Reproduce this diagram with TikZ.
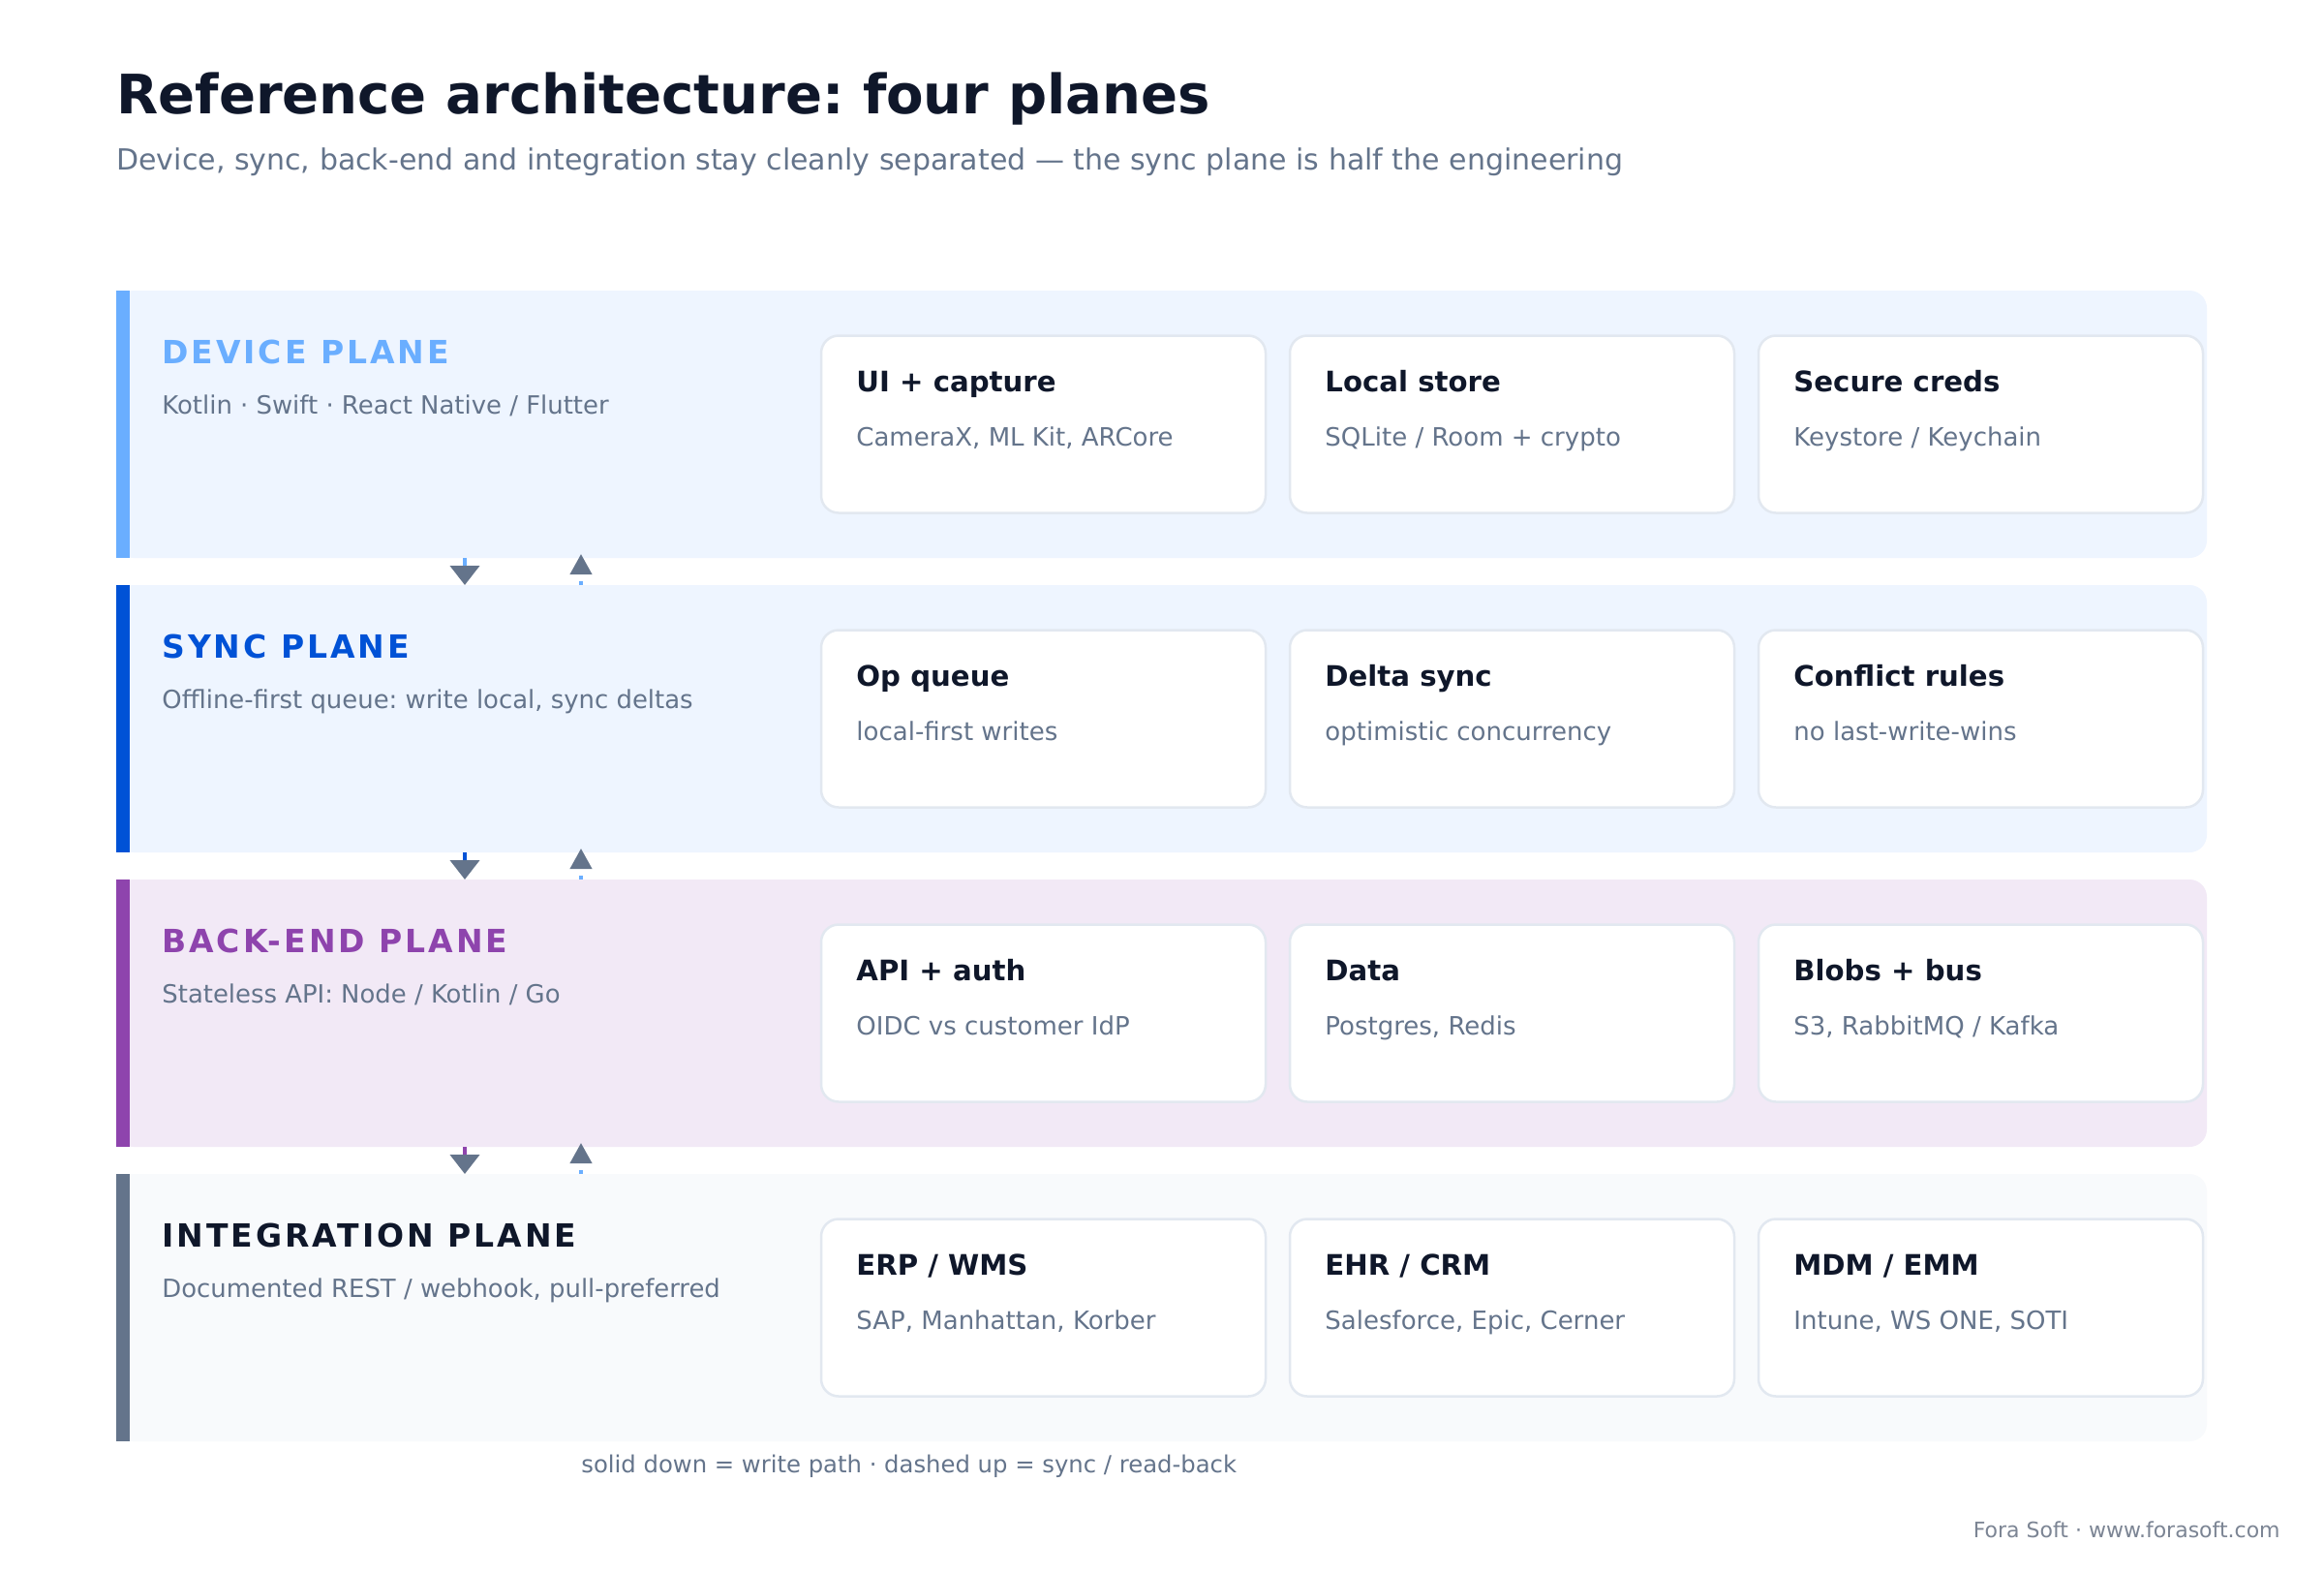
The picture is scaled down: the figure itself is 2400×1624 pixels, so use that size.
\documentclass[tikz,border=0pt]{standalone}
\usepackage{fontspec}
\setmainfont{DejaVu Sans}
\newfontfamily\planefont{DejaVu Sans}[LetterSpace=9]
\usetikzlibrary{positioning}
\usetikzlibrary{arrows.meta}
\frenchspacing

\definecolor{ink}{HTML}{0F172A}
\definecolor{slate}{HTML}{64748B}
\definecolor{cardline}{HTML}{E2E8F0}
\definecolor{devblue}{HTML}{6AAEFF}
\definecolor{devbg}{HTML}{EEF5FF}
\definecolor{syncblue}{HTML}{0052D6}
\definecolor{backpurple}{HTML}{8E44AD}
\definecolor{backbg}{HTML}{F2E9F6}
\definecolor{intbg}{HTML}{F8FAFC}
\definecolor{footgray}{HTML}{7C8594}

\tikzset{
  plane/.style={rectangle,rounded corners=9pt,draw=none,minimum width=1079.5pt,minimum height=138pt,anchor=north west,inner sep=0pt,outer sep=0pt},
  bar/.style={rectangle,draw=none,minimum width=7pt,minimum height=138pt,anchor=north west,inner sep=0pt,outer sep=0pt},
  card/.style={rectangle,rounded corners=9pt,draw=cardline,line width=1.25pt,fill=white,minimum width=229.5pt,minimum height=91.5pt,inner sep=0pt,outer sep=0pt},
  planetitle/.style={anchor=base west,inner sep=0pt,font=\planefont\fontsize{16.5pt}{20pt}\selectfont\bfseries},
  planesub/.style={anchor=base west,inner sep=0pt,text=slate,font=\fontsize{12.95pt}{15pt}\selectfont},
  cardtitle/.style={anchor=base west,inner sep=0pt,text=ink,font=\fontsize{14.6pt}{17pt}\selectfont\bfseries},
  cardsub/.style={anchor=base west,inner sep=0pt,text=slate,font=\fontsize{13pt}{15pt}\selectfont},
  writepath/.style={line width=2pt,-{Triangle[length=10pt,width=15pt,color=slate]}},
  readback/.style={line width=2pt,devblue,dash pattern=on 2pt off 4pt,-{Triangle[length=10.5pt,width=11pt,color=slate]}},
}

\begin{document}
\begin{tikzpicture}[x=0.5pt,y=-0.5pt]
\useasboundingbox[fill=white] (0,0) rectangle (2400,1624);

\node[anchor=base west,inner sep=0pt,text=ink,font=\fontsize{28.05pt}{34pt}\selectfont\bfseries] (title) at (120,117) {Reference architecture: four planes};
\node[anchor=base west,inner sep=0pt,text=slate,font=\fontsize{15pt}{18pt}\selectfont] (subtitle) at (120,175) {Device, sync, back-end and integration stay cleanly separated --- the sync plane is half the engineering};

\node[plane,fill=devbg] (device) at (120,300) {};
\node[bar,fill=devblue] at (device.north west) {};
\node[planetitle,text=devblue] (devicet) at ([xshift=23.5pt,yshift=-37.85pt]device.north west) {DEVICE PLANE};
\node[planesub] (devices) at ([xshift=23.5pt,yshift=-63.65pt]device.north west) {Kotlin · Swift · React Native / Flutter};
\node[card,anchor=north west] (ui) at (848,346.5) {};
\node[card,right=12.5pt of ui] (store) {};
\node[card,right=12.5pt of store] (creds) {};
\node[cardtitle] at ([xshift=18pt,yshift=-29pt]ui.north west) {UI + capture};
\node[cardsub] at ([xshift=18pt,yshift=-57pt]ui.north west) {CameraX, ML Kit, ARCore};
\node[cardtitle] at ([xshift=18pt,yshift=-29pt]store.north west) {Local store};
\node[cardsub] at ([xshift=18pt,yshift=-57pt]store.north west) {SQLite / Room + crypto};
\node[cardtitle] at ([xshift=18pt,yshift=-29pt]creds.north west) {Secure creds};
\node[cardsub] at ([xshift=18pt,yshift=-57pt]creds.north west) {Keystore / Keychain};

\node[plane,fill=devbg] (sync) at (120,604) {};
\node[bar,fill=syncblue] at (sync.north west) {};
\node[planetitle,text=syncblue] (synct) at ([xshift=23.5pt,yshift=-37.85pt]sync.north west) {SYNC PLANE};
\node[planesub] (syncs) at ([xshift=23.5pt,yshift=-63.65pt]sync.north west) {Offline-first queue: write local, sync deltas};
\node[card,anchor=north west] (opq) at (848,650.5) {};
\node[card,right=12.5pt of opq] (delta) {};
\node[card,right=12.5pt of delta] (conflict) {};
\node[cardtitle] at ([xshift=18pt,yshift=-29pt]opq.north west) {Op queue};
\node[cardsub] at ([xshift=18pt,yshift=-57pt]opq.north west) {local-first writes};
\node[cardtitle] at ([xshift=18pt,yshift=-29pt]delta.north west) {Delta sync};
\node[cardsub] at ([xshift=18pt,yshift=-57pt]delta.north west) {optimistic concurrency};
\node[cardtitle] at ([xshift=18pt,yshift=-29pt]conflict.north west) {Conflict rules};
\node[cardsub] at ([xshift=18pt,yshift=-57pt]conflict.north west) {no last-write-wins};

\node[plane,fill=backbg] (backend) at (120,908) {};
\node[bar,fill=backpurple] at (backend.north west) {};
\node[planetitle,text=backpurple] (backendt) at ([xshift=23.5pt,yshift=-37.85pt]backend.north west) {BACK-END PLANE};
\node[planesub] (backends) at ([xshift=23.5pt,yshift=-63.65pt]backend.north west) {Stateless API: Node / Kotlin / Go};
\node[card,anchor=north west] (api) at (848,954.5) {};
\node[card,right=12.5pt of api] (data) {};
\node[card,right=12.5pt of data] (blobs) {};
\node[cardtitle] at ([xshift=18pt,yshift=-29pt]api.north west) {API + auth};
\node[cardsub] at ([xshift=18pt,yshift=-57pt]api.north west) {OIDC vs customer IdP};
\node[cardtitle] at ([xshift=18pt,yshift=-29pt]data.north west) {Data};
\node[cardsub] at ([xshift=18pt,yshift=-57pt]data.north west) {Postgres, Redis};
\node[cardtitle] at ([xshift=18pt,yshift=-29pt]blobs.north west) {Blobs + bus};
\node[cardsub] at ([xshift=18pt,yshift=-57pt]blobs.north west) {S3, RabbitMQ / Kafka};

\node[plane,fill=intbg] (integ) at (120,1212) {};
\node[bar,fill=slate] at (integ.north west) {};
\node[planetitle,text=ink] (integt) at ([xshift=23.5pt,yshift=-37.85pt]integ.north west) {INTEGRATION PLANE};
\node[planesub] (integs) at ([xshift=23.5pt,yshift=-63.65pt]integ.north west) {Documented REST / webhook, pull-preferred};
\node[card,anchor=north west] (erp) at (848,1258.5) {};
\node[card,right=12.5pt of erp] (ehr) {};
\node[card,right=12.5pt of ehr] (mdm) {};
\node[cardtitle] at ([xshift=18pt,yshift=-29pt]erp.north west) {ERP / WMS};
\node[cardsub] at ([xshift=18pt,yshift=-57pt]erp.north west) {SAP, Manhattan, Korber};
\node[cardtitle] at ([xshift=18pt,yshift=-29pt]ehr.north west) {EHR / CRM};
\node[cardsub] at ([xshift=18pt,yshift=-57pt]ehr.north west) {Salesforce, Epic, Cerner};
\node[cardtitle] at ([xshift=18pt,yshift=-29pt]mdm.north west) {MDM / EMM};
\node[cardsub] at ([xshift=18pt,yshift=-57pt]mdm.north west) {Intune, WS ONE, SOTI};

\draw[writepath,devblue] ([xshift=180pt]device.south west) -- ([xshift=180pt]sync.north west);
\draw[readback] ([xshift=240pt]sync.north west) -- ([xshift=240pt,yshift=2pt]device.south west);
\draw[writepath,syncblue] ([xshift=180pt]sync.south west) -- ([xshift=180pt]backend.north west);
\draw[readback] ([xshift=240pt]backend.north west) -- ([xshift=240pt,yshift=2pt]sync.south west);
\draw[writepath,backpurple] ([xshift=180pt]backend.south west) -- ([xshift=180pt]integ.north west);
\draw[readback] ([xshift=240pt]integ.north west) -- ([xshift=240pt,yshift=2pt]backend.south west);

\node[anchor=base west,inner sep=0pt,text=slate,font=\fontsize{12.15pt}{14pt}\selectfont] (legend) at (600,1520) {solid down = write path · dashed up = sync / read-back};
\node[anchor=base east,inner sep=0pt,text=footgray,font=\fontsize{11pt}{13pt}\selectfont] (footer) at (2355,1587) {Fora Soft · www.forasoft.com};
\end{tikzpicture}
\end{document}
